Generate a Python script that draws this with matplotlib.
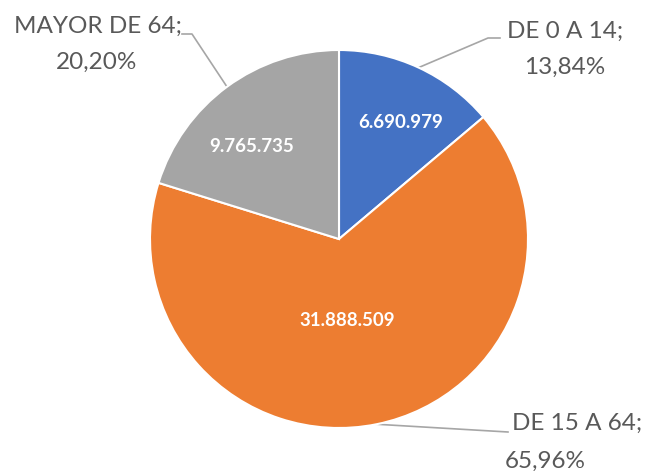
import numpy as np
import matplotlib

matplotlib.use('agg')
import matplotlib.pyplot as plt

# data
categories = ['DE 0 A 14', 'DE 15 A 64', 'MAYOR DE 64']
values = [6690979, 31888509, 9765735]
pct_labels = ['13,84%', '65,96%', '20,20%']
value_labels = ['6.690.979', '31.888.509', '9.765.735']
colors = ['#4472C4', '#ED7D31', '#A5A5A5']

W, H = 665, 471
cx, cy, R = 339, H - 239, 189

fig = plt.figure(figsize=(W / 100, H / 100), dpi=100)
ax = fig.add_axes([0, 0, 1, 1])

wedges, _ = ax.pie(values, colors=colors, startangle=90, counterclock=False,
                   center=(cx, cy), radius=R,
                   wedgeprops=dict(edgecolor='white', linewidth=1.5))
ax.set_xlim(0, W)
ax.set_ylim(0, H)
ax.set_aspect('equal')
ax.axis('off')

# value labels inside the slices (image pixel positions)
inner_pos = [(401, 123), (347, 321), (252, 147)]
for lab, (x, y) in zip(value_labels, inner_pos):
    ax.text(x, H - y, lab, ha='center', va='center', color='white',
            fontsize=13.5, fontweight='bold', family='Lato')

# outer labels with leader lines
txt_color = '#595959'
line_color = '#A6A6A6'
# (line1 x, line1 y, line2 x, line2 y, ha, elbow, line end) in image pixels
outer = [
    (565, 31, 565, 67, 'center', (488, 38), (500, 38)),
    (512, 423, 505, 461, 'left', None, (508, 432)),
    (98, 26, 97, 62, 'center', (192, 34), (182, 34)),
]
for w, cat, pct, o in zip(wedges, categories, pct_labels, outer):
    x1, y1, x2, y2, ha, elbow, end = o
    ax.text(x1, H - y1, cat + ';', ha=ha, va='center', color=txt_color,
            fontsize=17.5, family='Lato')
    ax.text(x2, H - y2, pct, ha=ha, va='center', color=txt_color,
            fontsize=17.5, family='Lato')
    ang = np.deg2rad((w.theta1 + w.theta2) / 2)
    px, py = cx + R * np.cos(ang), cy + R * np.sin(ang)
    xs, ys = [px], [py]
    if elbow is not None:
        xs.append(elbow[0])
        ys.append(H - elbow[1])
    xs.append(end[0])
    ys.append(H - end[1])
    ax.plot(xs, ys, color=line_color, linewidth=1.2, zorder=0)

fig.savefig('out.png', dpi=100)
